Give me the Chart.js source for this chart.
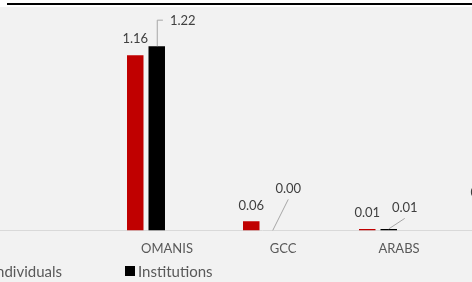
<!DOCTYPE html>
<html>
<head>
<meta charset="utf-8">
<script src="https://cdn.jsdelivr.net/npm/chart.js@4/dist/chart.umd.min.js"></script>
<style>
    html, body { margin: 0; padding: 0; background: #fff; }
    body { width: 472px; height: 282px; position: relative; overflow: hidden; font-family: Lato, sans-serif; }
    .top-rule { position: absolute; left: 7px; right: 0; top: 3px; height: 2px; background: #000; }
    .panel { position: absolute; left: 0; top: 7px; width: 472px; height: 275px; background: #f2f2f2; overflow: hidden; }
    #chart { position: absolute; left: -28px; top: 0; }
    .legend-item { position: absolute; top: 255px; height: 18px; display: flex; align-items: center; font-size: 15px; color: #595959; white-space: nowrap; }
    .legend-box { width: 10px; height: 10px; margin-right: 3px; }
</style>
</head>
<body>
<div class="top-rule"></div>
<div class="panel">
    <canvas id="chart" width="580" height="275"></canvas>
    <div id="legend"></div>
</div>
<script>
// data
const categories = ['', 'OMANIS', 'GCC', 'ARABS', 'OTHERS'];
const seriesNames = ['Individuals', 'Institutions'];
const individuals = [null, 1.16, 0.06, 0.01, 0.14];
const institutions = [null, 1.22, 0.00, 0.01, 0.02];

const colors = ['#c00000', '#000000'];

// Excel-style labels: red ones sit on the bar, black ones are dragged out with a leader line
const labelOffsets = [
    [null, { dx: 0, dy: -16 }, { dx: 0, dy: -16 }, { dx: 0, dy: -16 }, { dx: 0, dy: -16 }],
    [null, { dx: 26, dy: -25.5, elbow: true }, { dx: 15.5, dy: -41.5 }, { dx: 16, dy: -21 }, { dx: 16, dy: -25 }]
];

const valueLabels = {
    id: 'valueLabels',
    afterDatasetsDraw(chart, args, opts) {
        const ctx = chart.ctx;
        ctx.save();
        ctx.font = '13px Lato';
        ctx.textAlign = 'center';
        ctx.textBaseline = 'middle';
        chart.data.datasets.forEach((ds, di) => {
            const meta = chart.getDatasetMeta(di);
            meta.data.forEach((bar, i) => {
                const v = ds.data[i];
                const off = opts.offsets[di][i];
                if (v === null || !off) return;
                const text = v.toFixed(2);
                const lx = bar.x + off.dx;
                const ly = bar.y + off.dy;
                if (off.dx !== 0) {
                    ctx.strokeStyle = '#a6a6a6';
                    ctx.lineWidth = 1;
                    ctx.beginPath();
                    if (off.elbow) {
                        const w = ctx.measureText(text).width;
                        ctx.moveTo(bar.x + 0.5, bar.y);
                        ctx.lineTo(bar.x + 0.5, ly - 0.5);
                        ctx.lineTo(lx - w / 2 - 7, ly - 0.5);
                    } else {
                        ctx.moveTo(bar.x, bar.y);
                        ctx.lineTo(lx, ly + 10.5);
                    }
                    ctx.stroke();
                }
                ctx.fillStyle = '#404040';
                ctx.fillText(text, lx, ly);
            });
        });
        ctx.restore();
    }
};

function buildLegend() {
    const container = document.getElementById('legend');
    seriesNames.forEach((name, i) => {
        const item = document.createElement('div');
        item.className = 'legend-item';
        if (i === 0) item.style.right = (472 - 62) + 'px';
        else item.style.left = '125px';
        item.innerHTML = `<span class="legend-box" style="background:${colors[i]}"></span><span>${name}</span>`;
        container.appendChild(item);
    });
}

new Chart(document.getElementById('chart'), {
    type: 'bar',
    data: {
        labels: categories,
        datasets: [
            { label: seriesNames[0], data: individuals, backgroundColor: colors[0], borderWidth: 0 },
            { label: seriesNames[1], data: institutions, backgroundColor: colors[1], borderWidth: 0 }
        ]
    },
    options: {
        responsive: false,
        animation: false,
        categoryPercentage: 0.3707,
        barPercentage: 0.767,
        layout: { padding: { top: 12, bottom: 14, left: 0, right: 0 } },
        plugins: {
            legend: { display: false },
            tooltip: { enabled: false },
            valueLabels: { offsets: labelOffsets }
        },
        scales: {
            x: {
                grid: { display: false, drawTicks: false },
                border: { display: true, color: '#d9d9d9', width: 1 },
                ticks: {
                    padding: 11,
                    labelOffset: 21,
                    color: '#595959',
                    font: { family: 'Lato', size: 13 },
                    maxRotation: 0,
                    autoSkip: false
                }
            },
            y: {
                display: false,
                min: 0,
                max: 1.4
            }
        }
    },
    plugins: [valueLabels]
});

buildLegend();
</script>
</body>
</html>
